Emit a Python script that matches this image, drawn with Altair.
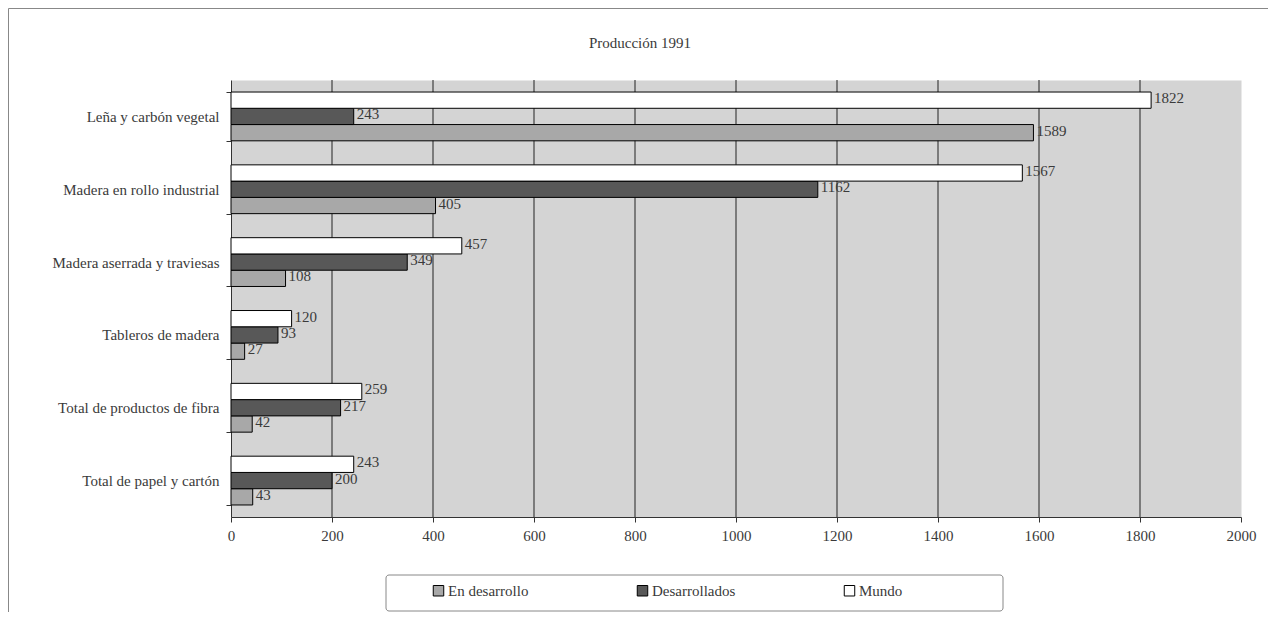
import altair as alt
import pandas as pd

categories = [
    "Leña y carbón vegetal",
    "Madera en rollo industrial",
    "Madera aserrada y traviesas",
    "Tableros de madera",
    "Total de productos de fibra",
    "Total de papel y cartón",
]
series = ["En desarrollo", "Desarrollados", "Mundo"]
en_desarrollo = [1589, 405, 108, 27, 42, 43]
desarrollados = [243, 1162, 349, 93, 217, 200]
mundo = [1822, 1567, 457, 120, 259, 243]
x_ticks = list(range(0, 2001, 200))
grid_values = list(range(200, 1801, 200))
colors = ["#a8a8a8", "#585858", "#ffffff"]
title_text = "Producción 1991"

rows = []
for i, c in enumerate(categories):
    for s, vals in zip(series, [en_desarrollo, desarrollados, mundo]):
        rows.append({"categoria": c, "serie": s, "valor": vals[i]})
df = pd.DataFrame(rows)

FONT = "Liberation Serif"
FS = 15
TXT = "#3a3a3a"

x_scale = alt.Scale(domain=[0, 2000], nice=False)
x_enc = alt.X(
    "valor:Q",
    scale=x_scale,
    axis=alt.Axis(
        values=x_ticks, format="d", grid=False, labelFlush=False,
        tickSize=5, tickColor="#333333", domainColor="#333333",
        labelPadding=6, labelFont=FONT, labelFontSize=FS, labelColor=TXT,
        title=None,
    ),
)
y_enc = alt.Y(
    "categoria:N", sort=categories, title=None,
    scale=alt.Scale(paddingInner=0.33, paddingOuter=0.165),
    axis=alt.Axis(
        tickBand="extent", tickSize=5, tickColor="#333333", domainColor="#333333",
        labelPadding=7, labelFont=FONT, labelFontSize=FS, labelColor=TXT,
        labelLimit=400,
    ),
)
yoff_enc = alt.YOffset(
    "serie:N", sort=["Mundo", "Desarrollados", "En desarrollo"],
    scale=alt.Scale(paddingInner=0, paddingOuter=0),
)

grid = alt.Chart(pd.DataFrame({"valor": grid_values})).mark_rule(
    color="#222222", strokeWidth=1
).encode(x=x_enc)

base = alt.Chart(df).encode(y=y_enc, yOffset=yoff_enc, x=x_enc)

bars = base.mark_bar(stroke="black", strokeWidth=1).encode(
    color=alt.Color(
        "serie:N",
        scale=alt.Scale(domain=series, range=colors),
        legend=alt.Legend(
            orient="none", legendX=200, legendY=503, direction="horizontal",
            columns=3, title=None, symbolType="square", symbolSize=110,
            symbolStrokeColor="black", symbolStrokeWidth=1, symbolOpacity=1,
            labelFont=FONT, labelFontSize=FS, labelColor=TXT,
            columnPadding=106, labelOffset=2, padding=0,
        ),
    )
)

labels = base.mark_text(
    align="left", baseline="middle", dx=3, dy=-2, font=FONT, fontSize=FS, color=TXT
).encode(text="valor:Q")

one = pd.DataFrame({"d": [0]})
title_mark = alt.Chart(one).mark_text(
    font=FONT, fontSize=FS, color=TXT, align="center", baseline="middle"
).encode(x=alt.value(409), y=alt.value(-37), text=alt.value(title_text))
legend_box = alt.Chart(one).mark_rect(
    fill="white", stroke="#888888", strokeWidth=1, cornerRadius=3
).encode(
    x=alt.value(155), x2=alt.value(772), y=alt.value(495), y2=alt.value(531)
)
border_top = alt.Chart(one).mark_rule(color="#888888", strokeWidth=1).encode(
    x=alt.value(-222.5), x2=alt.value(1037), y=alt.value(-71.5)
)
border_left = alt.Chart(one).mark_rule(color="#888888", strokeWidth=1).encode(
    x=alt.value(-222.5), y=alt.value(-71.5), y2=alt.value(540)
)

chart = alt.layer(grid, bars, labels, title_mark, legend_box, border_top, border_left).properties(
    width=1010,
    height=437,
    background="white",
    padding={"left": 223, "top": 72, "right": 27, "bottom": 95},
    autosize=alt.AutoSizeParams(type="none"),
).configure_view(
    fill="#d4d4d4", stroke="transparent"
)

chart.save("out.html", embed_options={"renderer": "svg", "actions": False})
